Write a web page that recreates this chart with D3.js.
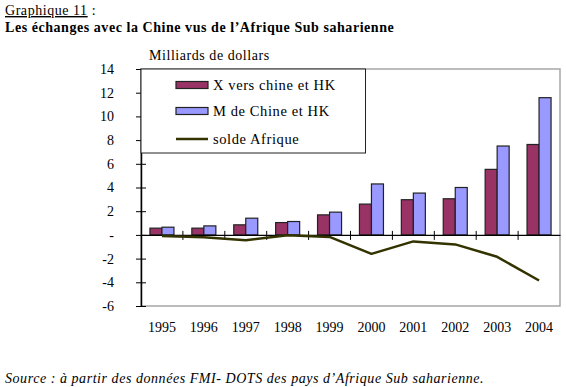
<!DOCTYPE html>
<html>
<head>
<meta charset="utf-8">
<script src="https://cdn.jsdelivr.net/npm/d3@7"></script>
<style>
  body { margin: 0; background: #fff; }
  svg { display: block; font-family: "Liberation Serif", "Times New Roman", serif; }
</style>
</head>
<body>
<script>
'use strict';

// chart values
let years = ["1995", "1996", "1997", "1998", "1999", "2000", "2001", "2002", "2003", "2004"];
let exportsX = [0.57, 0.57, 0.85, 1.04, 1.69, 2.6, 2.97, 3.05, 5.53, 7.63];
let importsM = [0.65, 0.76, 1.41, 1.13, 1.92, 4.3, 3.53, 4.0, 7.5, 11.58];
let solde = [-0.1, -0.2, -0.45, -0.03, -0.17, -1.6, -0.55, -0.8, -1.85, -3.85];
let yTicks = [-6, -4, -2, 0, 2, 4, 6, 8, 10, 12, 14];
let seriesNames = ["X vers chine et HK", "M de Chine et HK", "solde Afrique"];

(function() {
  let width = 566, height = 387;
  let plot = {left: 141, right: 560, top: 69, bottom: 306};
  let spacing = '0.55px';

  let svg = d3.select('body')
    .append('svg')
    .attr('width', width)
    .attr('height', height);

  // titles
  let t1 = svg.append('text')
    .attr('x', 5)
    .attr('y', 15)
    .style('font-size', '14px')
    .style('letter-spacing', spacing);
  t1.append('tspan').attr('text-decoration', 'underline').text('Graphique 11');
  t1.append('tspan').text(' :');

  svg.append('text')
    .attr('x', 5)
    .attr('y', 32)
    .style('font-size', '14px')
    .style('font-weight', 'bold')
    .style('letter-spacing', spacing)
    .text('Les échanges avec la Chine vus de l\u2019Afrique Sub saharienne');

  svg.append('text')
    .attr('x', 149)
    .attr('y', 60)
    .style('font-size', '14px')
    .style('letter-spacing', spacing)
    .text('Milliards de dollars');

  // scales
  let xScale = d3.scaleBand()
    .domain(years)
    .range([plot.left, plot.right]);

  let subScale = d3.scaleBand()
    .domain(["X", "M"])
    .range([0, xScale.bandwidth()])
    .paddingInner(0)
    .paddingOuter(0.745);

  let yScale = d3.scaleLinear()
    .domain([-6, 14])
    .range([plot.bottom, plot.top]);

  // plot area border (grey)
  svg.append('rect')
    .attr('x', plot.left)
    .attr('y', plot.top)
    .attr('width', plot.right - plot.left)
    .attr('height', plot.bottom - plot.top)
    .attr('fill', 'none')
    .attr('stroke', '#a6a6a6')
    .attr('stroke-width', 1.5);

  // y axis, ticks crossing the line
  let yAxis = d3.axisLeft(yScale)
    .tickValues(yTicks)
    .tickSizeInner(5)
    .tickSizeOuter(0)
    .tickPadding(22)
    .tickFormat((d) => d === 0 ? '-' : d3.format('d')(d).replace('\u2212', '-'));

  let gy = svg.append('g')
    .attr('transform', 'translate(' + plot.left + ', 0)')
    .call(yAxis);
  gy.select('.domain').attr('stroke', '#000').attr('stroke-width', 1.5);
  gy.selectAll('.tick line').attr('x1', 5).attr('stroke', '#000');
  gy.selectAll('.tick text')
    .style('font-size', '14px')
    .style('font-family', '"Liberation Serif", "Times New Roman", serif')
    .attr('fill', '#000');

  // bars
  let rows = years.map((y, i) => ({year: y, X: exportsX[i], M: importsM[i], solde: solde[i]}));
  let colors = {X: '#993366', M: '#9999ff'};

  ["X", "M"].forEach((key) => {
    svg.selectAll('.bar-' + key)
      .data(rows)
      .enter()
      .append('rect')
        .attr('class', 'bar-' + key)
        .attr('x', (d) => xScale(d.year) + subScale(key))
        .attr('y', (d) => yScale(d[key]))
        .attr('width', subScale.bandwidth())
        .attr('height', (d) => yScale(0) - yScale(d[key]))
        .attr('fill', colors[key])
        .attr('stroke', '#222')
        .attr('stroke-width', 1.2);
  });

  // category axis at zero
  let xAxis = d3.axisBottom(xScale)
    .tickSize(0)
    .tickFormat('');
  let gx = svg.append('g')
    .attr('transform', 'translate(0, ' + yScale(0) + ')')
    .call(xAxis);
  gx.select('.domain').attr('stroke', '#000').attr('stroke-width', 1.2);
  gx.selectAll('.tick').remove();

  // tick marks between categories
  svg.selectAll('.xtick')
    .data(years.slice(1))
    .enter()
    .append('line')
      .attr('x1', (d) => xScale(d))
      .attr('x2', (d) => xScale(d))
      .attr('y1', yScale(0) - 4)
      .attr('y2', yScale(0) + 5)
      .attr('stroke', '#000')
      .attr('stroke-width', 1);

  // solde line
  let line = d3.line()
    .x((d) => xScale(d.year) + xScale.bandwidth() / 2)
    .y((d) => yScale(d.solde));

  svg.append('path')
    .datum(rows)
    .attr('fill', 'none')
    .attr('stroke', '#333300')
    .attr('stroke-width', 2.5)
    .attr('stroke-linejoin', 'round')
    .attr('d', line);

  // year labels
  svg.selectAll('.ylab')
    .data(years)
    .enter()
    .append('text')
      .attr('x', (d) => xScale(d) + xScale.bandwidth() / 2)
      .attr('y', 332)
      .attr('text-anchor', 'middle')
      .style('font-size', '14px')
      .text((d) => d);

  // legend
  let legend = svg.append('g');
  legend.append('rect')
    .attr('x', plot.left)
    .attr('y', plot.top)
    .attr('width', 224.5)
    .attr('height', 84)
    .attr('fill', '#fff')
    .attr('stroke', '#222')
    .attr('stroke-width', 1);

  let legendY = [85, 111, 139];
  [0, 1].forEach((i) => {
    let key = i === 0 ? "X" : "M";
    legend.append('rect')
      .attr('x', 176)
      .attr('y', legendY[i] - 3.5)
      .attr('width', 32)
      .attr('height', 7)
      .attr('fill', colors[key])
      .attr('stroke', '#222')
      .attr('stroke-width', 1.2);
  });
  legend.append('line')
    .attr('x1', 176)
    .attr('x2', 208)
    .attr('y1', legendY[2])
    .attr('y2', legendY[2])
    .attr('stroke', '#333300')
    .attr('stroke-width', 2.5);

  seriesNames.forEach((name, i) => {
    legend.append('text')
      .attr('x', 213)
      .attr('y', legendY[i] + 5)
      .style('font-size', '14.5px')
      .style('letter-spacing', '0.6px')
      .text(name);
  });

  // source
  svg.append('text')
    .attr('x', 5)
    .attr('y', 383)
    .style('font-size', '14px')
    .style('font-style', 'italic')
    .style('letter-spacing', spacing)
    .text('Source : à partir des données FMI- DOTS des pays d\u2019Afrique Sub saharienne.');
})();
</script>
</body>
</html>
